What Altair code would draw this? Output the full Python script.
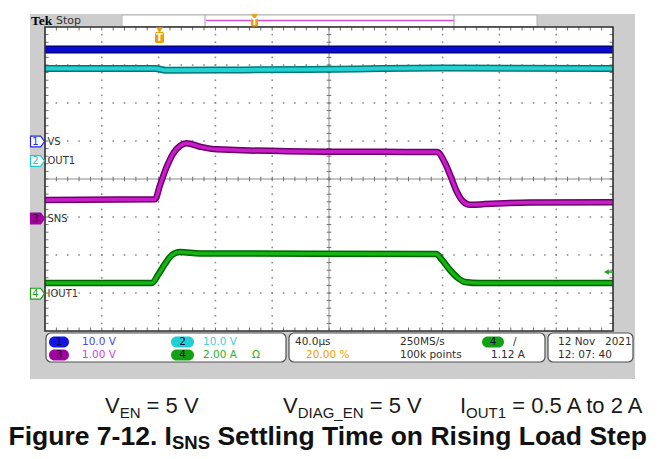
import altair as alt
import pandas as pd

# ---------------- values ----------------
T_PER_DIV = 40.0            # µs / div
TRIG_PCT = 20.0             # trigger position (%)
N_HDIV, N_VDIV = 10, 8

CH_LABELS = ["VS", "OUT1", "SNS", "IOUT1"]
CH_SCALE = [10.0, 10.0, 1.00, 2.00]      # units / div
CH_OFFSET = [1.0, 0.47, -1.03, -3.03]    # ground marker position (div)

vs_time = [-80, 0, 120, 320]
vs_volt = [24.1, 24.1, 24.1, 24.1]

out1_time = [-80, -2, 5, 60, 120, 200, 320]
out1_volt = [24.4, 24.4, 23.9, 24.0, 24.2, 24.5, 24.4]

sns_time = [-80, -2.5, 1.0, 5.7, 10.4, 15.1, 19.8, 29.2, 40.9, 117, 196,
            201.7, 205.9, 210.1, 214.4, 219.3, 229.9, 261.5, 320]
sns_volt = [0.48, 0.50, 0.87, 1.35, 1.71, 1.90, 1.97, 1.88, 1.81, 1.75, 1.74,
            1.45, 1.08, 0.69, 0.44, 0.35, 0.37, 0.41, 0.42]

iout_time = [-80, -4.6, -0.4, 4.5, 9.4, 15.1, 29.2, 195.4, 199.6, 205.2,
             210.8, 215.8, 226.3, 320]
iout_amp = [0.59, 0.59, 1.01, 1.59, 2.06, 2.22, 2.14, 2.11, 1.80, 1.27,
            0.85, 0.64, 0.58, 0.59]

TRACE_CORE = ["#0a0ad8", "#22d2d2", "#c81ec8", "#14b414"]
TRACE_EDGE = ["#000080", "#007878", "#6e006e", "#006400"]
TRACE_W = [(8, 5), (7, 4), (6.5, 3.5), (6.5, 3.5)]

# ---------------- layout ----------------
OX, OY = 45, 27            # plot-area origin in page pixels
PW, PH = 568, 304
T_MIN = -T_PER_DIV * N_HDIV * TRIG_PCT / 100
T_MAX = T_MIN + T_PER_DIV * N_HDIV
XS = alt.Scale(domain=[T_MIN, T_MAX], nice=False, zero=False)
YS = alt.Scale(domain=[-N_VDIV / 2, N_VDIV / 2], nice=False, zero=False)
US_PER_PX = T_PER_DIV * N_HDIV / PW
DIV_PER_PX = N_VDIV / PH

SCOPE_FONT = "DejaVu Sans"
DOC_FONT = "Liberation Sans"


def px_df(rows, cols, xcols=("x", "x2"), ycols=("y", "y2")):
    df = pd.DataFrame(rows, columns=cols)
    for c in xcols:
        if c in df:
            df[c] = df[c] - OX
    for c in ycols:
        if c in df:
            df[c] = df[c] - OY
    return df


def PX(f="x"):
    return alt.X(f"{f}:Q", scale=None, axis=None)


def PY(f="y"):
    return alt.Y(f"{f}:Q", scale=None, axis=None)


def rect_layer(rows, radius=0):
    df = px_df(rows, ["x", "y", "x2", "y2", "fill", "stroke", "sw"])
    return alt.Chart(df).mark_rect(cornerRadius=radius).encode(
        x=PX(), x2="x2:Q", y=PY(), y2="y2:Q",
        fill=alt.Fill("fill:N", scale=None),
        stroke=alt.Stroke("stroke:N", scale=None),
        strokeWidth=alt.StrokeWidth("sw:Q", scale=None))


def rule_layer(rows):
    df = px_df(rows, ["x", "y", "x2", "y2", "color", "sw"])
    return alt.Chart(df).mark_rule().encode(
        x=PX(), x2="x2:Q", y=PY(), y2="y2:Q",
        color=alt.Color("color:N", scale=None),
        strokeWidth=alt.StrokeWidth("sw:Q", scale=None))


def text_layer(rows, font, weight="normal", align="left", baseline="middle"):
    df = px_df(rows, ["x", "y", "text", "color", "fs"])
    return alt.Chart(df).mark_text(font=font, fontWeight=weight, align=align,
                                   baseline=baseline).encode(
        x=PX(), y=PY(), text="text:N",
        color=alt.Color("color:N", scale=None),
        size=alt.Size("fs:Q", scale=None))


def point_layer(rows, shape, size, sw=1.2):
    df = px_df(rows, ["x", "y", "fill", "stroke"])
    return alt.Chart(df).mark_point(shape=shape, size=size, filled=True,
                                    strokeWidth=sw, opacity=1).encode(
        x=PX(), y=PY(),
        fill=alt.Fill("fill:N", scale=None),
        stroke=alt.Stroke("stroke:N", scale=None))


layers = []

# scope frame and plot background
layers.append(rect_layer([
    (30, 14, 635, 379, "#cdcdcd", "transparent", 0),
    (OX, OY, OX + PW, OY + PH, "#ffffff", "transparent", 0),
    (122, 15, 537, 26.5, "#ffffff", "#b4b4b4", 1),
]))
layers.append(rule_layer([
    (205, 15, 205, 26.5, "#a0a0a0", 1),
    (454, 15, 454, 26.5, "#a0a0a0", 1),
    (206, 20.5, 454, 20.5, "#d050d0", 1.5),
]))

# grid dots
dots = []
for i in range(1, N_HDIV):
    if i == N_HDIV // 2:
        continue
    for k in range(1, N_VDIV * 5):
        dots.append({"t": T_MIN + i * T_PER_DIV, "d": -N_VDIV / 2 + k * 0.2})
for j in range(1, N_VDIV):
    if j == N_VDIV // 2:
        continue
    for k in range(1, N_HDIV * 5):
        dots.append({"t": T_MIN + k * T_PER_DIV / 5, "d": -N_VDIV / 2 + j})
layers.append(alt.Chart(pd.DataFrame(dots)).mark_square(size=2.6, color="#8c8c8c", opacity=1).encode(
    x=alt.X("t:Q", scale=XS, axis=None), y=alt.Y("d:Q", scale=YS, axis=None)))

# centre cross-hair
T_MID = (T_MIN + T_MAX) / 2
center = pd.DataFrame([
    {"t": T_MIN, "t2": T_MAX, "d": 0, "d2": 0},
    {"t": T_MID, "t2": T_MID, "d": -N_VDIV / 2, "d2": N_VDIV / 2},
])
layers.append(alt.Chart(center).mark_rule(color="#8a8a8a", strokeWidth=1).encode(
    x=alt.X("t:Q", scale=XS, axis=None), x2="t2:Q",
    y=alt.Y("d:Q", scale=YS, axis=None), y2="d2:Q"))

# minor ticks (every 1/5 division) on border and centre lines
vt, ht = [], []
for k in range(1, N_HDIV * 5):
    t = T_MIN + k * T_PER_DIV / 5
    vt.append({"t": t, "d": N_VDIV / 2, "d2": N_VDIV / 2 - 3.5 * DIV_PER_PX})
    vt.append({"t": t, "d": -N_VDIV / 2, "d2": -N_VDIV / 2 + 3.5 * DIV_PER_PX})
    vt.append({"t": t, "d": -2.3 * DIV_PER_PX, "d2": 2.3 * DIV_PER_PX})
for k in range(1, N_VDIV * 5):
    d = -N_VDIV / 2 + k * 0.2
    ht.append({"d": d, "t": T_MIN, "t2": T_MIN + 3.5 * US_PER_PX})
    ht.append({"d": d, "t": T_MAX, "t2": T_MAX - 3.5 * US_PER_PX})
    ht.append({"d": d, "t": T_MID - 2.3 * US_PER_PX, "t2": T_MID + 2.3 * US_PER_PX})
layers.append(alt.Chart(pd.DataFrame(vt)).mark_rule(color="#6e6e6e", strokeWidth=1).encode(
    x=alt.X("t:Q", scale=XS, axis=None), y=alt.Y("d:Q", scale=YS, axis=None), y2="d2:Q"))
layers.append(alt.Chart(pd.DataFrame(ht)).mark_rule(color="#6e6e6e", strokeWidth=1).encode(
    x=alt.X("t:Q", scale=XS, axis=None), x2="t2:Q", y=alt.Y("d:Q", scale=YS, axis=None)))

# traces
series = [(vs_time, vs_volt), (out1_time, out1_volt), (sns_time, sns_volt), (iout_time, iout_amp)]
for ci, (ts, vals) in enumerate(series):
    df = pd.DataFrame({"t": ts, "v": vals})
    df["d"] = CH_OFFSET[ci] + df["v"] / CH_SCALE[ci]
    base = alt.Chart(df).encode(x=alt.X("t:Q", scale=XS, axis=None),
                                y=alt.Y("d:Q", scale=YS, axis=None))
    wE, wC = TRACE_W[ci]
    layers.append(base.mark_line(color=TRACE_EDGE[ci], strokeWidth=wE, interpolate="monotone"))
    layers.append(base.mark_line(color=TRACE_CORE[ci], strokeWidth=wC, interpolate="monotone"))

# plot border
layers.append(rect_layer([(OX, OY, OX + PW, OY + PH, "transparent", "#2e2e2e", 1.6)]))

# channel ground markers
ARROW = "M -1 -0.78 L 0.45 -0.78 L 1 0 L 0.45 0.78 L -1 0.78 Z"
ch_y = [141.5, 161, 218.5, 293.7]
layers.append(point_layer([
    (37.5, ch_y[0], "#ffffff", "#2828e0"),
    (37.5, ch_y[1], "#ffffff", "#20c8c8"),
    (37.5, ch_y[2], "#a000a0", "#a000a0"),
    (37.5, ch_y[3], "#ffffff", "#14a014"),
], ARROW, 196))
layers.append(text_layer([
    (35.5, ch_y[0], "1", "#2828e0", 10),
    (35.5, ch_y[1], "2", "#20c8c8", 10),
    (35.5, ch_y[2], "3", "#300030", 10),
    (35.5, ch_y[3], "4", "#14a014", 10),
], SCOPE_FONT, align="center"))
layers.append(text_layer([
    (47.5, ch_y[i], CH_LABELS[i], "#333333", 10) for i in range(4)
], SCOPE_FONT))

# trigger markers
layers.append(point_layer([(159.5, 30, "#f0a000", "#f0a000"), (254.5, 16.8, "#f0a000", "#f0a000")],
                          "triangle-down", 36, sw=0.5))
layers.append(rect_layer([
    (155, 32, 164, 43, "#f0a000", "transparent", 0),
    (251, 18, 258, 26.5, "#f0a000", "transparent", 0),
    (294, 350, 303, 360, "#f0a000", "transparent", 0),
], radius=1.5))
layers.append(text_layer([
    (159.5, 38, "T", "#ffffff", 10),
    (254.5, 22.5, "T", "#ffffff", 8),
    (298.5, 355.3, "T", "#ffffff", 8),
], SCOPE_FONT, weight="bold", align="center"))
layers.append(point_layer([(606.5, 272, "#14a014", "#14a014")], "triangle-left", 22, sw=0.5))
layers.append(rule_layer([(607, 272, 613, 272, "#14a014", 1.5)]))

# header text
layers.append(text_layer([(31, 21, "Tek", "#000000", 13.5)], "Liberation Serif", weight="bold"))
layers.append(text_layer([(56, 20.5, "Stop", "#333333", 11)], SCOPE_FONT))

# info panel
layers.append(rect_layer([
    (46, 333, 286, 362, "#ffffff", "#505050", 1.2),
    (289, 333, 545, 362, "#ffffff", "#505050", 1.2),
    (548, 333, 633, 362, "#ffffff", "#505050", 1.2),
], radius=5))
layers.append(rect_layer([
    (49, 336.5, 69, 347.5, "#1414e6", "transparent", 0),
    (171, 336.5, 194, 347.5, "#20d0d0", "transparent", 0),
    (49, 349.5, 69, 360.5, "#a000a0", "transparent", 0),
    (171, 349.5, 194, 360.5, "#14a014", "transparent", 0),
    (482, 336.5, 504, 347.5, "#14a014", "transparent", 0),
], radius=5.5))
layers.append(text_layer([
    (59, 342, "1", "#101040", 10.5),
    (182.5, 342, "2", "#101040", 10.5),
    (59, 355, "3", "#101040", 10.5),
    (182.5, 355, "4", "#101040", 10.5),
    (493, 342, "4", "#101040", 10.5),
], SCOPE_FONT, align="center"))
layers.append(text_layer([
    (82, 342, "10.0 V", "#4646f0", 10.5),
    (203, 342, "10.0 V", "#3cd2d2", 10.5),
    (82, 355, "1.00 V", "#d246d2", 10.5),
    (203, 355, "2.00 A", "#28b428", 10.5),
    (252, 355, "Ω", "#28b428", 10.5),
    (295, 342, "40.0µs", "#303030", 10.5),
    (400, 342, "250MS/s", "#303030", 10.5),
    (513, 342, "/", "#303030", 10.5),
    (306, 355, "20.00 %", "#f0a000", 10.5),
    (400, 355, "100k points", "#303030", 10.5),
    (491, 355, "1.12 A", "#303030", 10.5),
    (558, 342, "12 Nov", "#303030", 10.5),
    (605, 342, "2021", "#303030", 10.5),
    (558, 355, "12: 07: 40", "#303030", 10.5),
], SCOPE_FONT))

# caption (conditions) and figure title
CAP_Y, TITLE_Y = 413, 445
layers.append(text_layer([
    (105, CAP_Y, "V", "#1a1a1a", 22),
    (146.6, CAP_Y, "= 5 V", "#1a1a1a", 22),
    (283, CAP_Y, "V", "#1a1a1a", 22),
    (369.7, CAP_Y, "= 5 V", "#1a1a1a", 22),
    (460, CAP_Y, "I", "#1a1a1a", 22),
    (512.2, CAP_Y, "= 0.5 A to 2 A", "#1a1a1a", 22),
    (119.7, CAP_Y + 5, "EN", "#1a1a1a", 15),
    (297.7, CAP_Y + 5, "DIAG_EN", "#1a1a1a", 15),
    (466.1, CAP_Y + 5, "OUT1", "#1a1a1a", 15),
], DOC_FONT, baseline="alphabetic"))
layers.append(text_layer([
    (8.5, TITLE_Y, "Figure 7-12. I", "#111111", 26.5),
    (172, TITLE_Y + 3.5, "SNS", "#111111", 18.5),
    (217.4, TITLE_Y, "Settling Time on Rising Load Step", "#111111", 26.5),
], DOC_FONT, weight="bold", baseline="alphabetic"))

chart = alt.layer(*layers).properties(
    width=PW, height=PH,
    padding={"left": OX - 8, "top": OY - 8, "right": 43, "bottom": 120},
    autosize=alt.AutoSizeParams(type="none"),
    background="#ffffff",
).configure_view(stroke=None)

chart.save("out.html", embed_options={"renderer": "svg", "actions": False})
